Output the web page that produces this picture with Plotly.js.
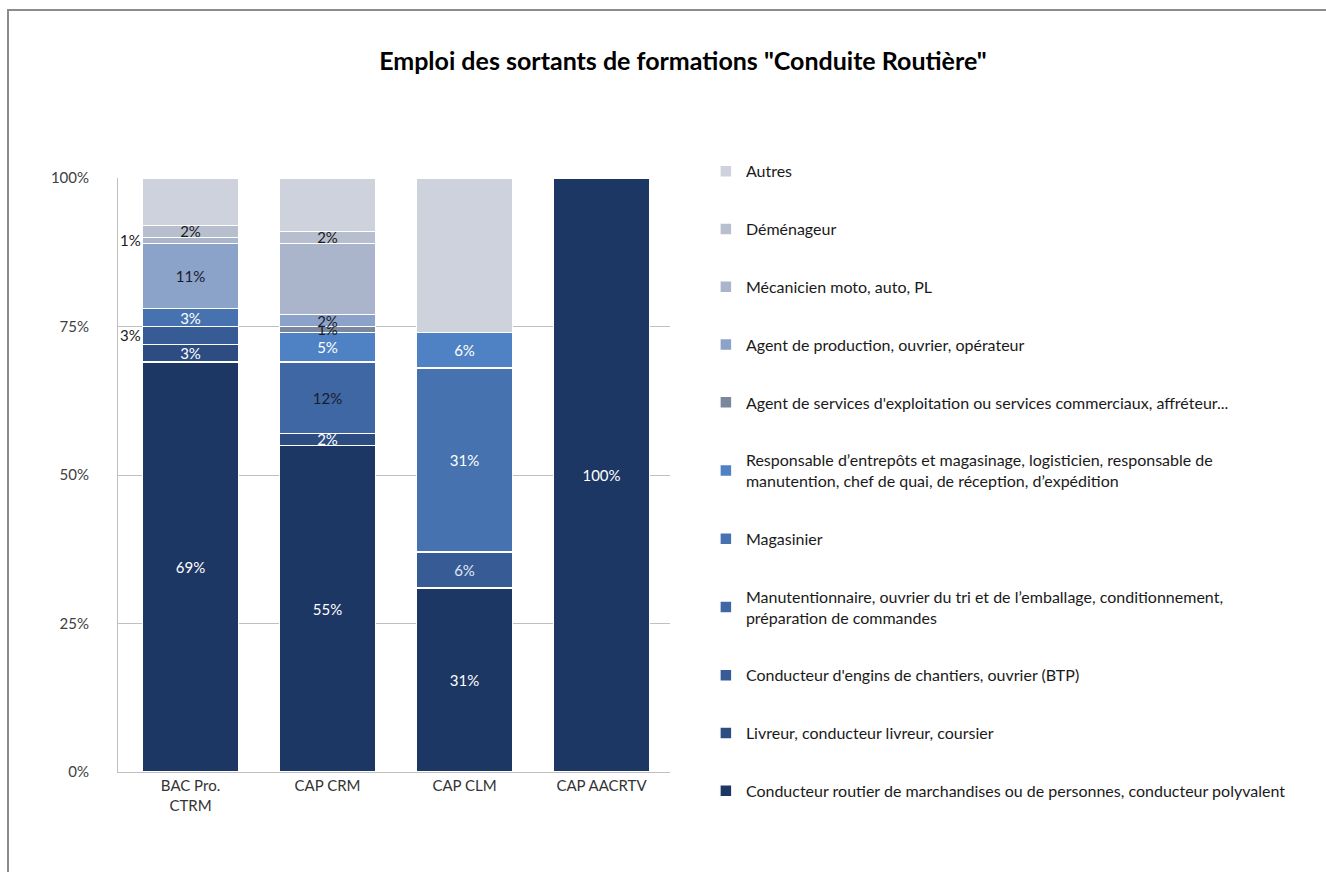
<!DOCTYPE html>
<html>
<head>
<meta charset="utf-8">
<script src="https://cdn.plot.ly/plotly-3.0.1.min.js"></script>
<style>
  html, body { margin: 0; padding: 0; background: #ffffff; overflow: hidden; }
  #frame { position: absolute; left: 7px; top: 9px; width: 1330px; height: 870px; border-left: 2px solid #8c8c8c; border-top: 2px solid #8c8c8c; }
  #chart { position: absolute; left: 0; top: 0; width: 1326px; height: 872px; }
</style>
</head>
<body>
<div id="frame"></div>
<div id="chart"></div>
<script>
// ---- Data ----
const categories = ["BAC Pro.<br>CTRM", "CAP CRM", "CAP CLM", "CAP AACRTV"];

const seriesNames = [
  "Conducteur routier de marchandises ou de personnes, conducteur polyvalent",
  "Livreur, conducteur livreur, coursier",
  "Conducteur d'engins de chantiers, ouvrier (BTP)",
  "Manutentionnaire, ouvrier du tri et de l’emballage, conditionnement,<br>préparation de commandes",
  "Magasinier",
  "Responsable d’entrepôts et magasinage, logisticien, responsable de<br>manutention, chef de quai, de réception, d’expédition",
  "Agent de services d'exploitation ou services commerciaux, affréteur...",
  "Agent de production, ouvrier, opérateur",
  "Mécanicien moto, auto, PL",
  "Déménageur",
  "Autres"
];

const conducteurRoutier   = [69, 55, 31, 100];
const livreur             = [3, 2, 0, 0];
const conducteurEngins    = [3, 0, 6, 0];
const manutentionnaire    = [0, 12, 0, 0];
const magasinier          = [3, 0, 31, 0];
const responsable         = [0, 5, 6, 0];
const agentServices       = [0, 1, 0, 0];
const agentProduction     = [11, 2, 0, 0];
const mecanicien          = [1, 12, 0, 0];
const demenageur          = [2, 2, 0, 0];
const autres              = [8, 9, 26, 0];

const seriesValues = [conducteurRoutier, livreur, conducteurEngins, manutentionnaire, magasinier,
  responsable, agentServices, agentProduction, mecanicien, demenageur, autres];

const yTickValues = [0, 25, 50, 75, 100];
const yTickLabels = ["0%", "25%", "50%", "75%", "100%"];

// labels not displayed in the original (series index -> category indexes)
const hiddenLabels = { 8: [1], 10: [0, 1, 2, 3] };
// labels placed beside the bar in the original (series index -> category indexes)
const outsideLabels = { 2: [0], 8: [0] };

// ---- Styles ----
const colors = ["#1d3764", "#2c4c82", "#375c95", "#3f67a3", "#4672b0", "#4f82c4",
  "#7b879c", "#8ba2c9", "#aab5cb", "#b7bfcf", "#cdd2dd"];
const textColors = ["#ffffff", "#ffffff", "#dfe8f5", "#1a1a2e", "#ffffff", "#ffffff",
  "#1a1a1a", "#1a1a2e", "#1a1a1a", "#1a1a1a", "#1a1a1a"];

const traces = seriesNames.map((name, i) => {
  const vals = seriesValues[i];
  const hidden = (hiddenLabels[i] || []).concat(outsideLabels[i] || []);
  return {
    type: "bar",
    name: name,
    x: categories,
    y: vals.map(v => v === 0 ? null : v),
    text: vals.map((v, j) => (v === 0 || hidden.includes(j)) ? "" : v + "%"),
    textposition: "inside",
    insidetextanchor: "middle",
    constraintext: "none",
    textfont: { family: "Lato, 'Open Sans', sans-serif", size: 15, color: textColors[i] },
    marker: { color: colors[i], line: { color: "#ffffff", width: 1.5 } },
    legendgroup: "g" + i,
    legendrank: 100 - i,
    hoverinfo: "name+y"
  };
});

// side labels, positioned from the stacked data through the axes
const annotations = [];
Object.keys(outsideLabels).forEach(k => {
  const i = Number(k);
  outsideLabels[i].forEach(j => {
    let base = 0;
    for (let s = 0; s < i; s++) base += seriesValues[s][j];
    annotations.push({
      x: categories[j], xref: "x",
      y: base + seriesValues[i][j] / 2, yref: "y",
      text: seriesValues[i][j] + "%",
      showarrow: false, xshift: -60,
      font: { family: "Lato, 'Open Sans', sans-serif", size: 15, color: "#1a1a1a" }
    });
  });
});

const layout = {
  width: 1326,
  height: 872,
  paper_bgcolor: "rgba(0,0,0,0)",
  plot_bgcolor: "#ffffff",
  barmode: "stack",
  bargap: 0.3,
  margin: { l: 118, r: 656, t: 178, b: 100 },
  font: { family: "Lato, 'Open Sans', sans-serif", color: "#333333" },
  title: {
    text: "<b>Emploi des sortants de formations \"Conduite Routière\"</b>",
    font: { family: "Lato, 'Open Sans', sans-serif", size: 25, color: "#000000" },
    x: 0.515, xanchor: "center", y: 0.93, yanchor: "middle"
  },
  xaxis: {
    type: "category",
    showgrid: false,
    showline: true, linecolor: "#bfbfbf", linewidth: 1,
    ticks: "",
    tickfont: { size: 15, color: "#333333" }
  },
  yaxis: {
    range: [0, 100],
    tickmode: "array",
    tickvals: yTickValues,
    ticktext: yTickLabels,
    showgrid: true, gridcolor: "#bfbfbf", gridwidth: 1,
    showline: true, linecolor: "#bfbfbf", linewidth: 1,
    zeroline: false,
    tickfont: { size: 15, color: "#404040" },
    ticklen: 0,
    ticklabelstandoff: 25
  },
  annotations: annotations,
  showlegend: true,
  legend: {
    x: 1.065, xanchor: "left",
    y: 1.04, yanchor: "top",
    traceorder: "grouped",
    tracegroupgap: 34,
    maxheight: 720,
    font: { family: "Lato, 'Open Sans', sans-serif", size: 16, color: "#1a1a1a" },
    itemwidth: 30,
    bgcolor: "rgba(0,0,0,0)"
  }
};

Plotly.newPlot("chart", traces, layout, { displayModeBar: false, staticPlot: true });
</script>
</body>
</html>
